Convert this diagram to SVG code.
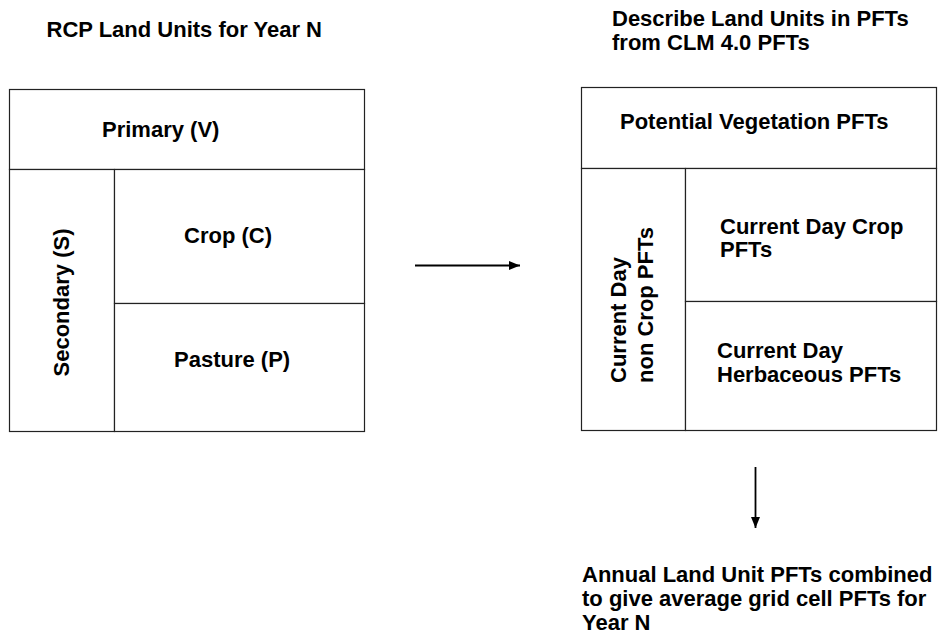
<svg xmlns="http://www.w3.org/2000/svg" width="945" height="643" viewBox="0 0 945 643">
<style>
.t{font-family:"Liberation Sans",Arial,sans-serif;font-weight:bold;font-size:22px;fill:#000}
.b{fill:#fff;stroke:#222;stroke-width:1.2}
.c{stroke:#000;stroke-width:1.8;fill:none}
</style>
<defs>
<marker id="ah" markerWidth="11" markerHeight="9" refX="11" refY="4.5" orient="auto" markerUnits="userSpaceOnUse">
<path d="M0,0 L11,4.5 L0,9 Z" fill="#000"/>
</marker>
</defs>
<rect width="945" height="643" fill="#fff"/>
<g id="heading-left"><text class="t" x="46.5" y="37">RCP Land Units for Year N</text></g>
<g id="heading-right"><text class="t" x="612" y="26">Describe Land Units in PFTs</text><text class="t" x="612" y="50">from CLM 4.0 PFTs</text></g>
<g id="primary"><rect class="b" x="9.5" y="89.5" width="355" height="80"/><text class="t" x="102" y="137">Primary (V)</text></g>
<g id="secondary"><rect class="b" x="9.5" y="169.5" width="105" height="262"/><text class="t" text-anchor="middle" transform="translate(68.5,302.5) rotate(-90)">Secondary (S)</text></g>
<g id="crop"><rect class="b" x="114.5" y="169.5" width="250" height="134"/><text class="t" x="184" y="243">Crop (C)</text></g>
<g id="pasture"><rect class="b" x="114.5" y="303.5" width="250" height="128"/><text class="t" x="174" y="367">Pasture (P)</text></g>
<g id="potential"><rect class="b" x="581.5" y="87.5" width="355" height="81"/><text class="t" x="620" y="129">Potential Vegetation PFTs</text></g>
<g id="noncrop"><rect class="b" x="581.5" y="168.5" width="104" height="262"/><text class="t" transform="translate(626,383) rotate(-90)">Current Day</text><text class="t" transform="translate(653,383) rotate(-90)">non Crop PFTs</text></g>
<g id="cropPFT"><rect class="b" x="685.5" y="168.5" width="251" height="133"/><text class="t" x="720" y="234">Current Day Crop</text><text class="t" x="720" y="257">PFTs</text></g>
<g id="herb"><rect class="b" x="685.5" y="301.5" width="251" height="129"/><text class="t" x="717" y="358">Current Day</text><text class="t" x="717" y="382">Herbaceous PFTs</text></g>
<g id="annual"><text class="t" x="582" y="582">Annual Land Unit PFTs combined</text><text class="t" x="582" y="606">to give average grid cell PFTs for</text><text class="t" x="582" y="630">Year N</text></g>
<g id="connectors">
<line class="c" x1="415" y1="265.5" x2="520" y2="265.5" marker-end="url(#ah)"/>
<line class="c" x1="755.5" y1="467" x2="755.5" y2="528" marker-end="url(#ah)"/>
</g>
</svg>
